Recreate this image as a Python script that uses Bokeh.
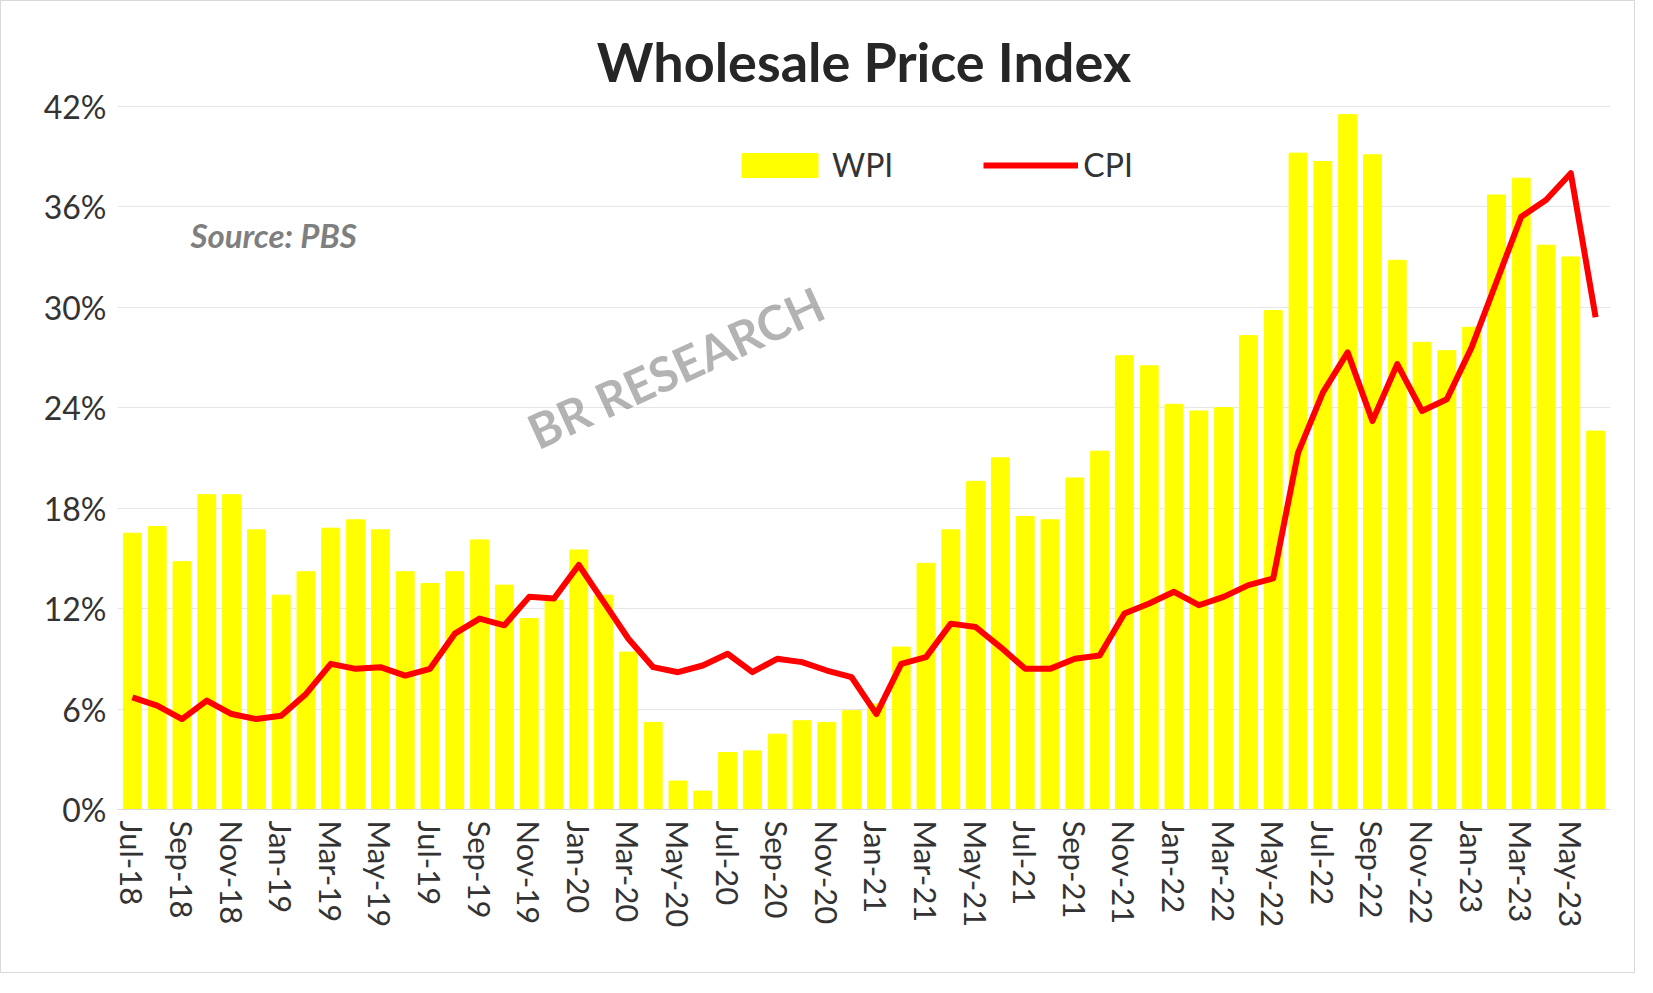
from bokeh.plotting import figure
from bokeh.models import ColumnDataSource, FixedTicker, Range1d, Label, Legend, LegendItem
from bokeh.embed import file_html
from bokeh.resources import INLINE
import math

months = []
for y in range(18, 24):
    for m in ["Jan","Feb","Mar","Apr","May","Jun","Jul","Aug","Sep","Oct","Nov","Dec"]:
        months.append(f"{m}-{y}")
months = months[months.index("Jul-18"):months.index("Jun-23")+1]

wpi = [16.5,16.9,14.8,18.8,18.8,16.7,
       12.8,14.2,16.8,17.3,16.7,14.2,13.5,14.2,16.1,13.4,11.4,12.5,
       15.5,12.8,9.4,5.2,1.7,1.1,3.4,3.5,4.5,5.3,5.2,5.9,
       6.3,9.7,14.7,16.7,19.6,21.0,17.5,17.3,19.8,21.4,27.1,26.5,
       24.2,23.8,24.0,28.3,29.8,39.2,38.7,41.5,39.1,32.8,27.9,27.4,
       28.8,36.7,37.7,33.7,33.0,22.6]
cpi = [6.7,6.2,5.4,6.5,5.7,5.4,
       5.6,6.9,8.7,8.4,8.5,8.0,8.4,10.5,11.4,11.0,12.7,12.6,
       14.6,12.4,10.2,8.5,8.2,8.6,9.3,8.2,9.0,8.8,8.3,7.9,
       5.7,8.7,9.1,11.1,10.9,9.7,8.4,8.4,9.0,9.2,11.7,12.3,
       13.0,12.2,12.7,13.4,13.8,21.3,24.9,27.3,23.2,26.6,23.8,24.5,
       27.6,31.5,35.4,36.4,38.0,29.4]
yticks = [0, 6, 12, 18, 24, 30, 36, 42]

FONT = "Lato"
src = ColumnDataSource(dict(x=list(range(len(months))), wpi=wpi, cpi=cpi))

p = figure(width=1635, height=973, output_backend="svg", toolbar_location=None,
           x_range=Range1d(-0.6, len(months)-0.4), y_range=Range1d(0, 43),
           min_border_left=116, min_border_right=26, min_border_top=88, min_border_bottom=165,
           styles={"border": "1px solid #D9D9D9"})
p.outline_line_color = None
p.border_fill_color = "white"

bars = p.vbar(x="x", top="wpi", width=0.72, color="#FFFF00", source=src)
ln = p.line(x="x", y="cpi", color="#FF0000", line_width=6, source=src, line_join="round")

p.yaxis.ticker = FixedTicker(ticks=yticks)
p.yaxis.major_label_overrides = {t: f"{t}%" for t in yticks}
p.yaxis.axis_line_color = None
p.yaxis.major_tick_line_color = None
p.yaxis.minor_tick_line_color = None
p.yaxis.major_label_text_font = FONT
p.yaxis.major_label_text_font_size = "32px"
p.yaxis.major_label_text_color = "#333333"

xt = list(range(0, len(months), 2))
p.xaxis.ticker = FixedTicker(ticks=xt)
p.xaxis.major_label_overrides = {i: months[i] for i in xt}
p.xaxis.major_label_orientation = -math.pi/2
p.xaxis.major_label_text_font = FONT
p.xaxis.major_label_text_font_size = "31px"
p.xaxis.major_label_text_color = "#333333"
p.xaxis.axis_line_color = "#D9D9D9"
p.xaxis.major_tick_line_color = None
p.xaxis.minor_tick_line_color = None

p.xgrid.grid_line_color = None
p.ygrid.grid_line_color = "#E6E6E6"
p.ygrid.ticker = FixedTicker(ticks=yticks)

p.title.text = "Wholesale Price Index"
p.title.align = "center"
p.title.text_font = FONT
p.title.text_font_size = "54px"
p.title.text_color = "#262626"
p.title.standoff = -8

legend = Legend(items=[LegendItem(label="WPI", renderers=[bars]),
                       LegendItem(label="CPI", renderers=[ln])],
                orientation="horizontal", location=(615, 625), label_text_font=FONT,
                label_text_font_size="32px", label_text_color="#333333",
                glyph_width=95, glyph_height=30, spacing=90, border_line_color=None,
                background_fill_alpha=0)
p.add_layout(legend, "center")

p.add_layout(Label(x=73, y=555, x_units="screen", y_units="screen", text="Source: PBS",
                   text_font=FONT, text_font_style="bold italic", text_font_size="33px",
                   text_color="#7F7F7F"))
p.add_layout(Label(x=425, y=350, x_units="screen", y_units="screen", text="BR RESEARCH",
                   angle=0.43, text_font=FONT, text_font_style="bold", text_font_size="48px",
                   text_color="#808080", text_alpha=0.6))

open("out.html", "w").write(file_html(p, INLINE))
